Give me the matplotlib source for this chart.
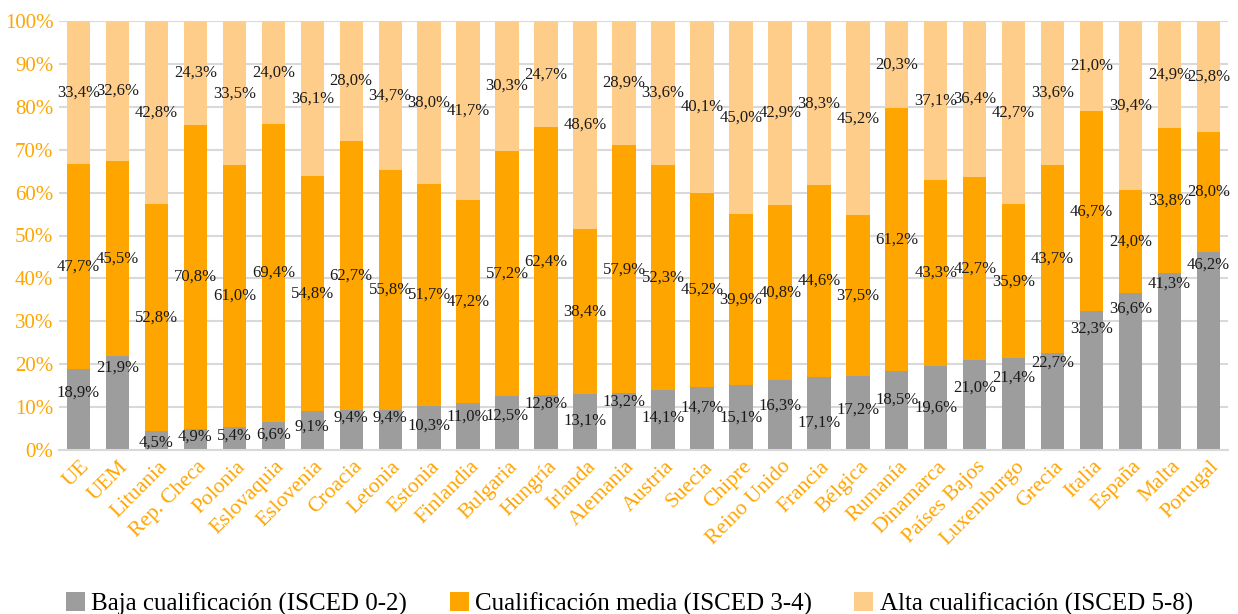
"""Stacked 100% bars: share of workforce by qualification level per country."""

import matplotlib
matplotlib.use("Agg")
import matplotlib.pyplot as plt
import matplotlib.transforms as mtransforms
from matplotlib.patches import Patch
import numpy as np

plt.rcParams["font.family"] = ["Liberation Serif", "DejaVu Serif"]

COUNTRIES = [
    "UE", "UEM", "Lituania", "Rep. Checa", "Polonia", "Eslovaquia", "Eslovenia",
    "Croacia", "Letonia", "Estonia", "Finlandia", "Bulgaria", "Hungría", "Irlanda",
    "Alemania", "Austria", "Suecia", "Chipre", "Reino Unido", "Francia", "Bélgica",
    "Rumanía", "Dinamarca", "Países Bajos", "Luxemburgo", "Grecia", "Italia",
    "España", "Malta", "Portugal",
]
LOW = [18.9, 21.9, 4.5, 4.9, 5.4, 6.6, 9.1, 9.4, 9.4, 10.3, 11.0, 12.5, 12.8, 13.1,
       13.2, 14.1, 14.7, 15.1, 16.3, 17.1, 17.2, 18.5, 19.6, 21.0, 21.4, 22.7, 32.3,
       36.6, 41.3, 46.2]
MID = [47.7, 45.5, 52.8, 70.8, 61.0, 69.4, 54.8, 62.7, 55.8, 51.7, 47.2, 57.2, 62.4,
       38.4, 57.9, 52.3, 45.2, 39.9, 40.8, 44.6, 37.5, 61.2, 43.3, 42.7, 35.9, 43.7,
       46.7, 24.0, 33.8, 28.0]
HIGH = [33.4, 32.6, 42.8, 24.3, 33.5, 24.0, 36.1, 28.0, 34.7, 38.0, 41.7, 30.3, 24.7,
        48.6, 28.9, 33.6, 40.1, 45.0, 42.9, 38.3, 45.2, 20.3, 37.1, 36.4, 42.7, 33.6,
        21.0, 39.4, 24.9, 25.8]
SERIES = [
    "Baja cualificación (ISCED 0-2)",
    "Cualificación media (ISCED 3-4)",
    "Alta cualificación (ISCED 5-8)",
]

# hand-placed heights (in %) of the low-qualification labels
LOW_LABEL_Y = [13.3, 19.1, 1.6, 3.0, 3.3, 3.5, 5.4, 7.5, 7.5, 5.6, 7.7, 7.9, 10.7, 6.8,
               11.2, 7.5, 9.8, 7.5, 10.3, 6.3, 9.3, 11.7, 9.8, 14.5, 16.8, 20.3, 28.2,
               32.9, 38.7, 43.1]

COLORS = ["#9d9d9d", "#ffa500", "#ffcd8a"]
ORANGE = "#ffa500"


def fmt(v):
    return f"{v:.1f}%".replace(".", ",")


def main():
    low = np.array(LOW)
    mid = np.array(MID)
    high = np.array(HIGH)
    x = np.arange(len(COUNTRIES))

    fig = plt.figure(figsize=(12.38, 6.14), dpi=100)
    ax = fig.add_axes([59 / 1238, 164 / 614, (1228 - 59) / 1238, 429 / 614])

    ax.bar(x, low, width=0.6, color=COLORS[0], zorder=2)
    ax.bar(x, mid, width=0.6, bottom=low, color=COLORS[1], zorder=2)
    ax.bar(x, high, width=0.6, bottom=low + mid, color=COLORS[2], zorder=2)

    lab = dict(ha="center", va="center", fontsize=12, color="#1a1a1a", zorder=3)
    for i in range(len(x)):
        ax.text(x[i], LOW_LABEL_Y[i], fmt(low[i]), **lab)
        ax.text(x[i], low[i] + mid[i] / 2, fmt(mid[i]), **lab)
        ax.text(x[i], low[i] + mid[i] + high[i] / 2, fmt(high[i]), **lab)

    ax.set_xlim(-0.5, len(x) - 0.5)
    ax.set_ylim(0, 100)
    ax.set_yticks(np.arange(0, 101, 10))
    ax.set_yticklabels([f"{v}%" for v in range(0, 101, 10)], color=ORANGE, fontsize=15)
    ax.tick_params(axis="y", length=0, pad=4)
    ax.tick_params(axis="x", length=0, pad=10)
    ax.set_xticks(x)
    ax.set_xticklabels(COUNTRIES, rotation=45, ha="right", va="center",
                       rotation_mode="anchor", color=ORANGE, fontsize=15.5)
    shift = mtransforms.ScaledTranslation(8 / 100, 0, fig.dpi_scale_trans)
    for t in ax.get_xticklabels():
        t.set_transform(t.get_transform() + shift)

    ax.grid(axis="y", color="#d9d9d9", linewidth=1.5, zorder=0)
    ax.set_axisbelow(True)
    for side in ("top", "right", "left"):
        ax.spines[side].set_visible(False)
    ax.spines["bottom"].set_color("#d9d9d9")
    ax.spines["bottom"].set_linewidth(1.5)

    handles = [Patch(facecolor=c, edgecolor="none") for c in COLORS]
    fig.legend(handles, SERIES, loc="center left", ncol=3, frameon=False,
               bbox_to_anchor=(66 / 1238, 1 - 604 / 614), fontsize=18,
               handlelength=0.76, handleheight=0.76, handletextpad=0.25,
               columnspacing=1.7, borderpad=0, borderaxespad=0)

    fig.savefig("out.png", dpi=100)
    plt.close(fig)


if __name__ == "__main__":
    main()
